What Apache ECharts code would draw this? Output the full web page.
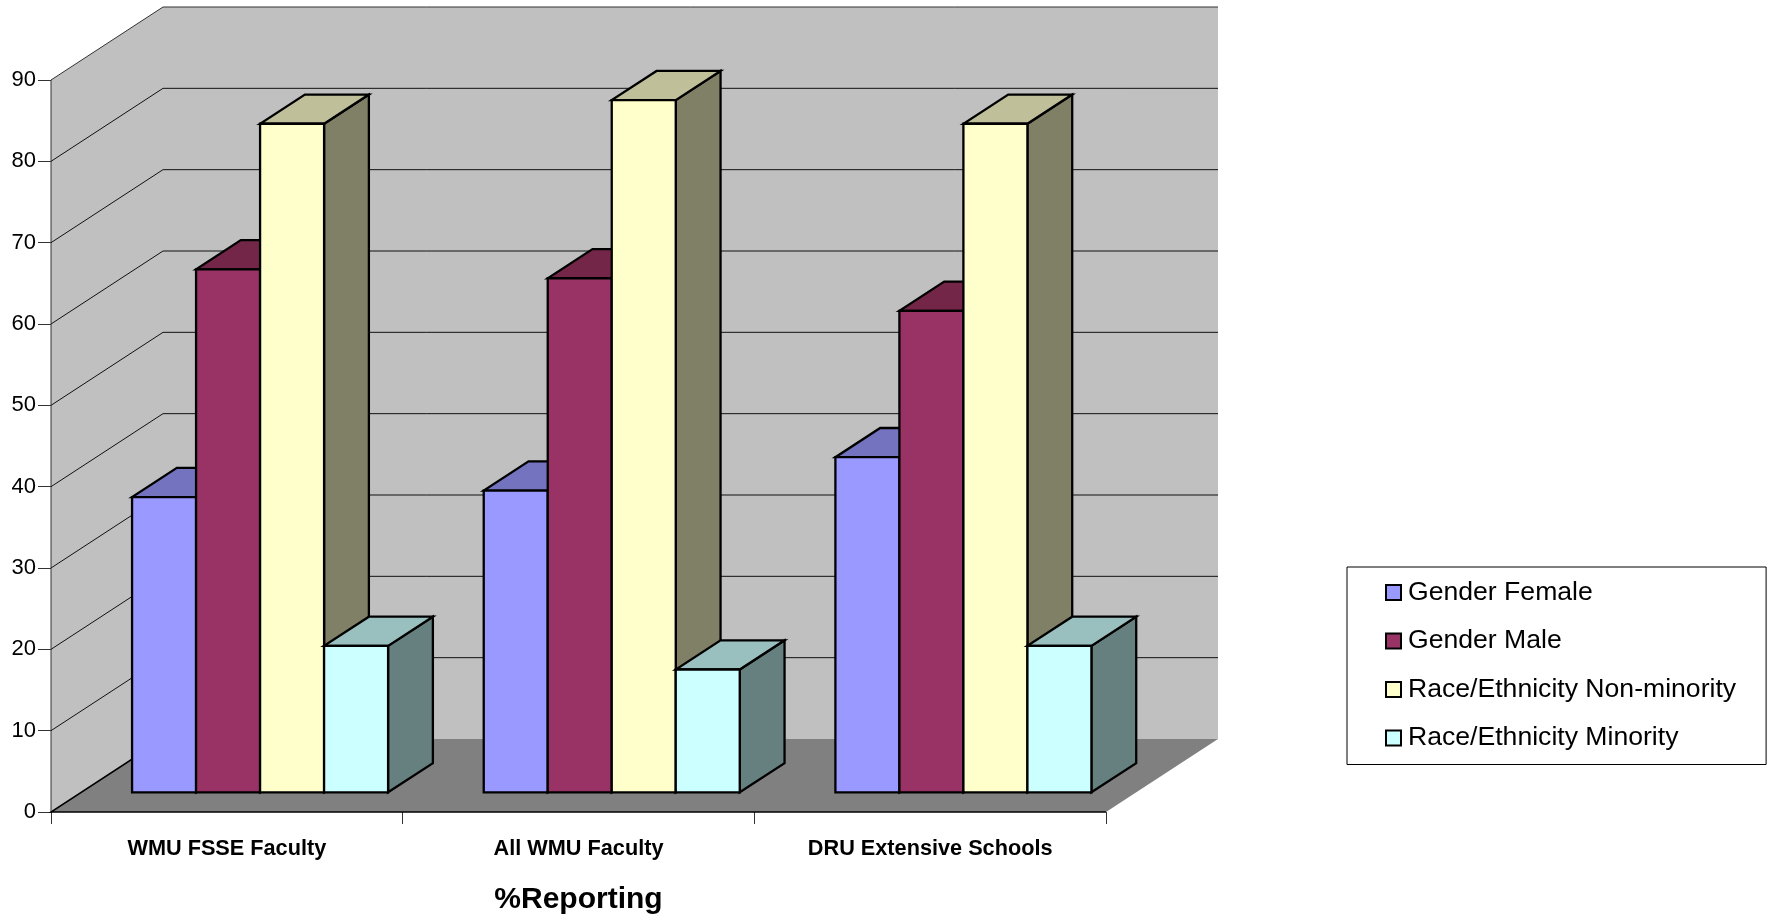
<!DOCTYPE html>
<html>
<head>
<meta charset="utf-8">
<style>html,body{margin:0;padding:0;background:#fff}#chart{width:1767px;height:918px}</style>
<script src="https://cdn.jsdelivr.net/npm/echarts@6/dist/echarts.min.js"></script>
</head>
<body>
<div id="chart"></div>
<script>
const categories = ['WMU FSSE Faculty', 'All WMU Faculty', 'DRU Extensive Schools'];
const genderFemale = [36.3, 37.1, 41.2];
const genderMale = [64.3, 63.2, 59.2];
const raceNonMinority = [82.2, 85.1, 82.2];
const raceMinority = [18, 15.1, 18];
const gridValues = [0, 10, 20, 30, 40, 50, 60, 70, 80, 90];

// Oblique projection of the chart box: the back wall sits this far from the front plane.
const DEPTH_X = 112, DEPTH_Y = -73;
const BAR_FRONT = 0.27, BAR_DEEP = 0.4;     // fractions of the box depth
const BAR_SHARE = 0.182;                    // bar width as a share of a category band
const GROUP_SHIFT = 3;

const face = {
  female:  { front: '#9999FF', top: '#7373BF', side: '#4C4C80' },
  male:    { front: '#993366', top: '#732648', side: '#4C1A33' },
  non:     { front: '#FFFFCC', top: '#BFBF99', side: '#808066' },
  min:     { front: '#CCFFFF', top: '#99BFBF', side: '#668080' }
};

const poly = (points, fill, stroke, lineWidth) => ({
  type: 'polygon',
  shape: { points },
  style: { fill, stroke: stroke || fill, lineWidth: lineWidth == null ? 1 : lineWidth, lineJoin: 'miter' }
});

// Left wall, back wall and floor of the box.
function renderBox(params, api) {
  const a = api.coord([0, 0]);
  const band = api.size([1, 0])[0];
  const left = a[0] - band / 2;
  const right = left + band * categories.length;
  const y0 = a[1];
  const yTop = api.coord([0, 90])[1];
  return {
    type: 'group',
    children: [
      poly([[left, y0], [left, yTop], [left + DEPTH_X, yTop + DEPTH_Y], [left + DEPTH_X, y0 + DEPTH_Y]], '#C0C0C0', '#C0C0C0', 0),
      poly([[left + DEPTH_X, y0 + DEPTH_Y], [left + DEPTH_X, yTop + DEPTH_Y], [right + DEPTH_X, yTop + DEPTH_Y], [right + DEPTH_X, y0 + DEPTH_Y]], '#C0C0C0', '#C0C0C0', 0),
      {
        type: 'polyline',
        shape: { points: [[left, y0], [left, yTop], [left + DEPTH_X, yTop + DEPTH_Y], [right + DEPTH_X, yTop + DEPTH_Y]] },
        style: { stroke: '#333', lineWidth: 1, fill: null }
      },
      poly([[left, y0], [right, y0], [right + DEPTH_X, y0 + DEPTH_Y], [left + DEPTH_X, y0 + DEPTH_Y]], '#808080', '#808080', 0),
      {
        type: 'polyline',
        shape: { points: [[left + DEPTH_X, y0 + DEPTH_Y], [left, y0], [right, y0]] },
        style: { stroke: '#000', lineWidth: 1.5, fill: null }
      }
    ]
  };
}

// One gridline: across the left wall, then along the back wall.
function renderGridline(params, api) {
  const v = api.value(0);
  if (v === 0 || v === 90) {
    return { type: 'group', children: [] };
  }
  const c = api.coord([0, v]);
  const band = api.size([1, 0])[0];
  const left = c[0] - band / 2;
  const right = left + band * categories.length;
  return {
    type: 'polyline',
    shape: { points: [[left, c[1]], [left + DEPTH_X, c[1] + DEPTH_Y], [right + DEPTH_X, c[1] + DEPTH_Y]] },
    style: { stroke: '#111', lineWidth: 1, fill: null }
  };
}

// One oblique bar: side, top and front faces, with the slot number choosing its place in the group.
function barRenderer(slot, colors) {
  return function (params, api) {
    const cat = api.value(0);
    const band = api.size([1, 0])[0];
    const w = band * BAR_SHARE;
    const ox = DEPTH_X * BAR_FRONT, oy = DEPTH_Y * BAR_FRONT;
    const dx = DEPTH_X * BAR_DEEP, dy = DEPTH_Y * BAR_DEEP;
    const base = api.coord([cat, 0]);
    const topPt = api.coord([cat, api.value(1)]);
    const x0 = base[0] + ox + GROUP_SHIFT + (slot - 2) * w;
    const x1 = x0 + w;
    const yb = base[1] + oy;
    const yt = topPt[1] + oy;
    return {
      type: 'group',
      children: [
        poly([[x1, yb], [x1 + dx, yb + dy], [x1 + dx, yt + dy], [x1, yt]], colors.side, '#000', 2.3),
        poly([[x0, yt], [x1, yt], [x1 + dx, yt + dy], [x0 + dx, yt + dy]], colors.top, '#000', 2.3),
        poly([[x0, yb], [x1, yb], [x1, yt], [x0, yt]], colors.front, '#000', 2.3)
      ]
    };
  };
}

const barSeries = (name, values, slot, colors) => ({
  name,
  type: 'custom',
  coordinateSystem: 'cartesian2d',
  renderItem: barRenderer(slot, colors),
  encode: { x: 0, y: 1 },
  itemStyle: { color: colors.front, borderColor: '#000', borderWidth: 2 },
  data: values.map((v, i) => [i, v]),
  silent: true,
  z: 5 + slot
});

const chart = echarts.init(document.getElementById('chart'), null, { renderer: 'canvas' });
const FONT = '"Liberation Sans", Arial, sans-serif';

chart.setOption({
  animation: false,
  backgroundColor: '#fff',
  textStyle: { fontFamily: FONT },
  grid: { left: 51, right: 661, top: 80, bottom: 106, containLabel: false, outerBoundsMode: 'none' },
  xAxis: {
    type: 'category',
    data: categories,
    name: '%Reporting',
    nameLocation: 'middle',
    nameGap: 73,
    nameTextStyle: { fontFamily: FONT, fontWeight: 'bold', fontSize: 30, color: '#000' },
    axisLine: { show: false },
    axisTick: { show: true, length: 12, alignWithLabel: false, lineStyle: { color: '#333', width: 1 } },
    axisLabel: { fontFamily: FONT, fontWeight: 'bold', fontSize: 21.7, color: '#000', margin: 26, interval: 0 },
    splitLine: { show: false }
  },
  yAxis: {
    type: 'value',
    min: 0,
    max: 90,
    interval: 10,
    axisLine: { show: true, lineStyle: { color: '#333', width: 1 } },
    axisTick: { show: true, length: 13, lineStyle: { color: '#333', width: 1 } },
    axisLabel: { fontFamily: FONT, fontSize: 22, color: '#000', margin: 15 },
    splitLine: { show: false }
  },
  legend: {
    orient: 'vertical',
    left: 1347,
    top: 567,
    icon: 'rect',
    itemWidth: 15,
    itemHeight: 15,
    itemGap: 21.5,
    padding: [12, 30, 13, 38],
    backgroundColor: '#fff',
    borderColor: '#000',
    borderWidth: 1,
    textStyle: { fontFamily: FONT, fontSize: 26.6, color: '#000', padding: [0, 0, 0, 2] },
    data: ['Gender Female', 'Gender Male', 'Race/Ethnicity Non-minority', 'Race/Ethnicity Minority']
  },
  series: [
    {
      type: 'custom',
      coordinateSystem: 'cartesian2d',
      renderItem: renderBox,
      encode: { x: 0, y: 1 },
      data: [[0, 0]],
      silent: true,
      z: 1
    },
    {
      type: 'custom',
      coordinateSystem: 'cartesian2d',
      renderItem: renderGridline,
      encode: { y: 0 },
      data: gridValues.map(v => [v]),
      silent: true,
      z: 2
    },
    barSeries('Gender Female', genderFemale, 0, face.female),
    barSeries('Gender Male', genderMale, 1, face.male),
    barSeries('Race/Ethnicity Non-minority', raceNonMinority, 2, face.non),
    barSeries('Race/Ethnicity Minority', raceMinority, 3, face.min)
  ]
});
</script>
</body>
</html>
